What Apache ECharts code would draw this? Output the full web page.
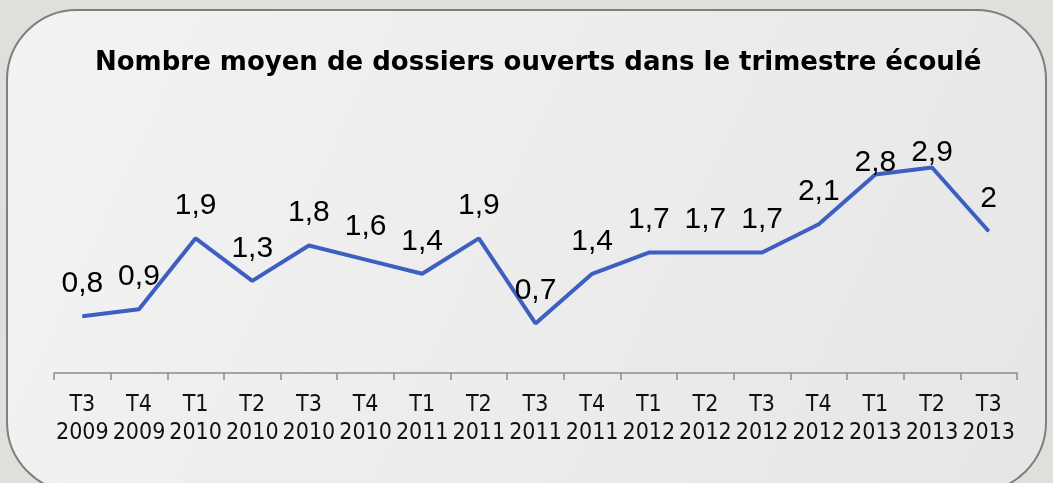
<!DOCTYPE html>
<html>
<head>
<meta charset="utf-8">
<script src="https://cdn.jsdelivr.net/npm/echarts@6/dist/echarts.min.js"></script>
<style>
  html, body { margin: 0; padding: 0; background: #dfe0db; }
  #chart { width: 1053px; height: 483px; }
</style>
</head>
<body>
<div id="chart"></div>
<script>
const quarters = ['T3', 'T4', 'T1', 'T2', 'T3', 'T4', 'T1', 'T2', 'T3', 'T4', 'T1', 'T2', 'T3', 'T4', 'T1', 'T2', 'T3'];
const years = ['2009', '2009', '2010', '2010', '2010', '2010', '2011', '2011', '2011', '2011', '2012', '2012', '2012', '2012', '2013', '2013', '2013'];
const dossiers = [0.8, 0.9, 1.9, 1.3, 1.8, 1.6, 1.4, 1.9, 0.7, 1.4, 1.7, 1.7, 1.7, 2.1, 2.8, 2.9, 2];

const categories = quarters.map((q, i) => q + '\n' + years[i]);

// the two highest labels are pushed down onto the line in the original
const labelTweaks = { 14: { distance: -4 }, 15: { distance: -1 } };

const seriesData = dossiers.map((v, i) => labelTweaks[i] ? { value: v, label: labelTweaks[i] } : v);

const chart = echarts.init(document.getElementById('chart'));
const option = {
    animation: false,
    graphic: [{
        type: 'rect',
        z: -10,
        shape: { x: 7, y: 10, width: 1039, height: 482, r: 70 },
        style: {
            fill: new echarts.graphic.LinearGradient(0, 0, 1, 1, [
                { offset: 0, color: '#f3f3f3' },
                { offset: 1, color: '#e6e6e6' }
            ]),
            stroke: '#7f7f7f',
            lineWidth: 2
        }
    }],
    title: {
        text: 'Nombre moyen de dossiers ouverts dans le trimestre écoulé',
        left: 90,
        top: 45,
        textStyle: { fontFamily: 'DejaVu Sans', fontWeight: 'bold', fontSize: 26, color: '#000' }
    },
    grid: { left: 54, right: 36, top: 125, bottom: 110 },
    xAxis: {
        type: 'category',
        data: categories,
        boundaryGap: true,
        axisLine: { lineStyle: { color: '#8c8c8c', width: 1.5 } },
        axisTick: { show: true, length: 7, lineStyle: { color: '#8c8c8c', width: 1.5 } },
        axisLabel: {
            interval: 0,
            margin: 18,
            fontFamily: 'DejaVu Sans Condensed, DejaVu Sans',
            fontSize: 23,
            lineHeight: 28,
            color: '#111'
        }
    },
    yAxis: {
        type: 'value',
        min: 0,
        max: 3.5,
        show: false,
        splitLine: { show: false }
    },
    series: [{
        type: 'line',
        data: seriesData,
        symbol: 'circle',
        symbolSize: 1,
        showSymbol: true,
        itemStyle: { color: '#3d5fc2' },
        lineStyle: { color: '#3d5fc2', width: 4 },
        label: {
            show: true,
            position: 'top',
            distance: 17,
            fontFamily: 'Liberation Sans, Arial',
            fontSize: 30,
            color: '#000',
            formatter: p => String(p.value).replace('.', ',')
        }
    }]
};
chart.setOption(option);
window.addEventListener('resize', () => chart.resize());
</script>
</body>
</html>
